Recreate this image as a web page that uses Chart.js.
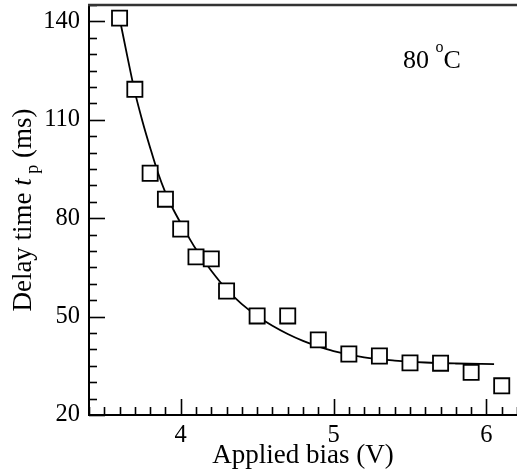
<!DOCTYPE html>
<html>
<head>
<meta charset="utf-8">
<script src="https://cdn.jsdelivr.net/npm/chart.js@4.4.1/dist/chart.umd.min.js"></script>
<style>
  html, body { margin: 0; padding: 0; background: #fff; }
</style>
</head>
<body>
<canvas id="delayChart" width="517" height="472"></canvas>
<script>
// measured points (open squares)
const biasV = [3.6, 3.7, 3.8, 3.9, 4.0, 4.1, 4.2, 4.3, 4.5, 4.7, 4.9, 5.1, 5.3, 5.5, 5.7, 5.9, 6.1];
const delayMs = [141, 119.3, 93.7, 85.8, 76.7, 68.2, 67.6, 57.8, 50.2, 50.2, 42.9, 38.6, 38.0, 35.9, 35.8, 33.0, 28.9];

// fitted curve
const fitBias = [3.6, 3.65, 3.7, 3.75, 3.8, 3.85, 3.9, 3.95, 4.0, 4.1, 4.2, 4.3, 4.4, 4.5, 4.6, 4.7, 4.8, 4.9, 5.0, 5.2, 5.4, 5.6, 5.8, 6.05];
const fitDelay = [141, 129.5, 118.5, 109.5, 101.5, 94, 87.8, 82.8, 78.5, 70.5, 64, 58.3, 53.8, 50.2, 47.2, 44.7, 42.6, 40.9, 39.5, 37.6, 36.6, 36.0, 35.7, 35.5];

// axis ticks
const xMajorTicks = [4, 5, 6];
const yMajorTicks = [20, 50, 80, 110, 140];

const FONT = "'Liberation Serif', 'Times New Roman', serif";

function isMajor(list, v) {
    return list.some(t => Math.abs(t - v) < 1e-6);
}

// inward tick marks, a top frame line, the y title with subscript and the temperature note
const extrasPlugin = {
    id: 'extras',
    beforeDatasetsDraw(chart) {
        const ctx = chart.ctx;
        const area = chart.chartArea;
        const xs = chart.scales.x;
        const ys = chart.scales.y;
        ctx.save();
        ctx.strokeStyle = '#000';
        ctx.lineWidth = 1.6;
        xs.ticks.forEach(t => {
            const px = Math.round(xs.getPixelForValue(t.value)) + 0.5;
            const len = isMajor(xMajorTicks, t.value) ? 16 : 8;
            ctx.beginPath();
            ctx.moveTo(px, area.bottom);
            ctx.lineTo(px, area.bottom - len);
            ctx.stroke();
        });
        ys.ticks.forEach(t => {
            const py = Math.round(ys.getPixelForValue(t.value)) + 0.5;
            const len = isMajor(yMajorTicks, t.value) ? 16 : 8;
            ctx.beginPath();
            ctx.moveTo(area.left, py);
            ctx.lineTo(area.left + len, py);
            ctx.stroke();
        });
        // top frame line
        ctx.strokeStyle = '#333';
        ctx.lineWidth = 2.5;
        ctx.beginPath();
        ctx.moveTo(area.left - 1, area.top);
        ctx.lineTo(area.right, area.top);
        ctx.stroke();
        ctx.restore();
    },
    afterDraw(chart) {
        const ctx = chart.ctx;
        const area = chart.chartArea;
        ctx.save();
        ctx.fillStyle = '#000';
        ctx.textBaseline = 'alphabetic';

        // y axis title: Delay time t_p (ms)
        const parts = [
            { text: 'Delay time ', font: `27px ${FONT}`, dy: 0 },
            { text: 't', font: `italic 27px ${FONT}`, dy: 0 },
            { text: ' p', font: `18px ${FONT}`, dy: 7 },
            { text: ' (ms)', font: `27px ${FONT}`, dy: 0 }
        ];
        let total = 0;
        parts.forEach(p => { ctx.font = p.font; p.w = ctx.measureText(p.text).width; total += p.w; });
        ctx.translate(31, (area.top + area.bottom) / 2);
        ctx.rotate(-Math.PI / 2);
        let x = -total / 2;
        parts.forEach(p => {
            ctx.font = p.font;
            ctx.fillText(p.text, x, p.dy);
            x += p.w;
        });
        ctx.setTransform(1, 0, 0, 1, 0, 0);

        // 80 oC label
        let tx = area.right - 114;
        const ty = area.top + 63;
        ctx.font = `26px ${FONT}`;
        ctx.fillText('80 ', tx, ty);
        tx += ctx.measureText('80 ').width;
        ctx.font = `16px ${FONT}`;
        ctx.fillText('o', tx, ty - 16);
        tx += ctx.measureText('o').width;
        ctx.font = `26px ${FONT}`;
        ctx.fillText('C', tx, ty);
        ctx.restore();
    }
};

const markerData = biasV.map((v, i) => ({ x: v, y: delayMs[i] }));
const fitData = fitBias.map((v, i) => ({ x: v, y: fitDelay[i] }));

new Chart(document.getElementById('delayChart').getContext('2d'), {
    type: 'scatter',
    data: {
        datasets: [
            {
                label: 'Measured',
                data: markerData,
                pointStyle: 'rect',
                pointRadius: 10.7,
                pointBackgroundColor: '#fff',
                pointBorderColor: '#000',
                pointBorderWidth: 1.8,
                showLine: false,
                clip: false,
                order: 0
            },
            {
                label: 'Fit',
                data: fitData,
                showLine: true,
                borderColor: '#000',
                borderWidth: 1.8,
                pointRadius: 0,
                cubicInterpolationMode: 'monotone',
                order: 1
            }
        ]
    },
    options: {
        responsive: false,
        animation: false,
        layout: { autoPadding: false, padding: { top: 5, right: 0, bottom: 0, left: 0 } },
        plugins: {
            legend: { display: false },
            tooltip: { enabled: false }
        },
        scales: {
            x: {
                type: 'linear',
                min: 3.4,
                max: 6.2,
                grid: { display: false, drawTicks: false },
                border: { display: true, color: '#000', width: 2 },
                afterFit(scale) {
                    scale.height = 57;
                    scale.paddingLeft = 0;
                    scale.paddingRight = 0;
                },
                ticks: {
                    stepSize: 0.1,
                    autoSkip: false,
                    maxRotation: 0,
                    padding: 6,
                    color: '#000',
                    font: { family: FONT, size: 24.5 },
                    callback: v => isMajor(xMajorTicks, v) ? String(Math.round(v)) : ''
                },
                title: {
                    display: true,
                    text: 'Applied bias (V)',
                    color: '#000',
                    font: { family: FONT, size: 27 },
                    padding: { top: 0, bottom: 0 }
                }
            },
            y: {
                type: 'linear',
                min: 20,
                max: 145,
                grid: { display: false, drawTicks: false },
                border: { display: true, color: '#000', width: 2 },
                afterFit(scale) {
                    scale.width = 89;
                    scale.paddingTop = 0;
                    scale.paddingBottom = 0;
                },
                ticks: {
                    stepSize: 5,
                    autoSkip: false,
                    padding: 9,
                    color: '#000',
                    font: { family: FONT, size: 24.5 },
                    callback: v => isMajor(yMajorTicks, v) ? String(Math.round(v)) : ''
                }
            }
        }
    },
    plugins: [extrasPlugin]
});
</script>
</body>
</html>
